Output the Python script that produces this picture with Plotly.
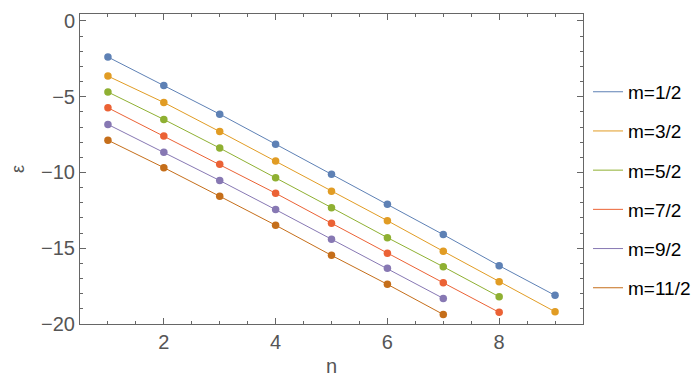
import plotly.graph_objects as go

n_values = [1, 2, 3, 4, 5, 6, 7, 8, 9]
labels = ["m=1/2", "m=3/2", "m=5/2", "m=7/2", "m=9/2", "m=11/2"]
colors = ["#5E81B5", "#E19C24", "#8FB032", "#EB6235", "#8778B3", "#C56E1A"]

eps_m1 = [-2.38, -4.26, -6.15, -8.13, -10.11, -12.10, -14.10, -16.15, -18.11]
eps_m3 = [-3.64, -5.38, -7.30, -9.25, -11.24, -13.18, -15.20, -17.21, -19.19]
eps_m5 = [-4.69, -6.50, -8.39, -10.34, -12.32, -14.30, -16.22, -18.20]
eps_m7 = [-5.73, -7.60, -9.45, -11.37, -13.35, -15.33, -17.28, -19.23]
eps_m9 = [-6.83, -8.66, -10.53, -12.45, -14.41, -16.32, -18.31]
eps_m11 = [-7.87, -9.68, -11.57, -13.48, -15.47, -17.38, -19.37]

series = [eps_m1, eps_m3, eps_m5, eps_m7, eps_m9, eps_m11]

fig = go.Figure()
for name, col, ys in zip(labels, colors, series):
    xs = n_values[:len(ys)]
    # line for the legend, markers drawn separately so the legend shows only the line
    fig.add_trace(go.Scatter(
        x=xs, y=ys, mode="lines", name=name,
        line=dict(color=col, width=1), legendgroup=name,
    ))
    fig.add_trace(go.Scatter(
        x=xs, y=ys, mode="markers", showlegend=False,
        marker=dict(color=col, size=7.5), legendgroup=name,
    ))

axis_common = dict(
    showgrid=False, zeroline=False, showline=True, linecolor="#666666",
    linewidth=1, mirror="ticks", ticks="inside", tickcolor="#666666",
    ticklen=6, tickfont=dict(family="Liberation Sans", size=20, color="#555555"),
)

fig.update_xaxes(
    range=[0.5, 9.5], dtick=2, tick0=0,
    minor=dict(dtick=0.5, ticks="inside", ticklen=3, tickcolor="#666666"),
    title=dict(text="n", font=dict(family="Liberation Sans", size=20, color="#555555"), standoff=6),
    automargin=True,
    **axis_common,
)
fig.update_yaxes(
    range=[-20, 0.46], dtick=5, tick0=0,
    minor=dict(dtick=1, ticks="inside", ticklen=3, tickcolor="#666666"),
    title=dict(text="ε", font=dict(family="Liberation Sans", size=18, color="#555555")),
    automargin=False,
    **axis_common,
)

fig.update_layout(
    width=700, height=377,
    margin=dict(l=72, r=125, t=6, b=61, autoexpand=False),
    plot_bgcolor="white", paper_bgcolor="white",
    legend=dict(
        x=1.01, y=0.81, xanchor="left", yanchor="top",
        font=dict(family="Liberation Sans", size=19, color="black"),
        tracegroupgap=11.5, itemwidth=30,
    ),
)

fig.write_html("out.html")
